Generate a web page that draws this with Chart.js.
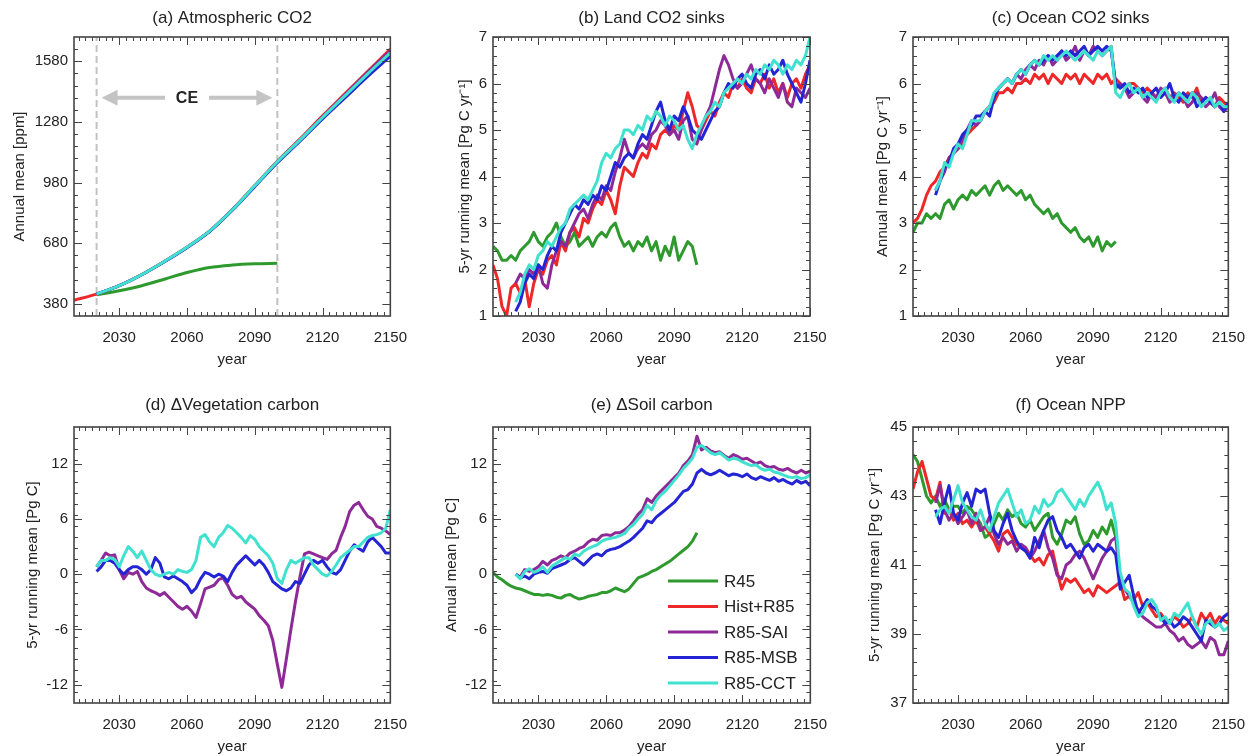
<!DOCTYPE html>
<html lang="en">
<head>
<meta charset="UTF-8">
<title>Carbon cycle panels</title>
<script src="https://cdn.jsdelivr.net/npm/chart.js@4.4.0/dist/chart.umd.min.js"></script>
<style>
  body { margin: 0; width: 1258px; height: 756px; overflow: hidden; background: #fff; position: relative; }
  canvas { position: absolute; }
</style>
</head>
<body>
<canvas id="pa" width="420" height="380" style="left:0;top:0"></canvas>
<canvas id="pb" width="420" height="380" style="left:420px;top:0"></canvas>
<canvas id="pc" width="418" height="380" style="left:840px;top:0"></canvas>
<canvas id="pd" width="420" height="376" style="left:0;top:380px"></canvas>
<canvas id="pe" width="420" height="376" style="left:420px;top:380px"></canvas>
<canvas id="pf" width="418" height="376" style="left:840px;top:380px"></canvas>

<script>
// ---- data ----
const names = ['R45', 'Hist+R85', 'R85-SAI', 'R85-MSB', 'R85-CCT'];
const colors = ['#2e9a2e', '#ee2828', '#8e2a98', '#2424d4', '#40e2cf'];
const xTicks = [2030, 2060, 2090, 2120, 2150];

// (a) atmospheric CO2, every 10 yr
const aR45  = [425, 445, 470, 502, 535, 560, 572, 578, 581];                          // 2020-2100
const aHist = [398, 428, 470, 525, 590, 660, 740, 845, 965, 1085, 1195, 1310, 1420, 1530, 1640]; // 2010-2150
const aSAI  = [428, 470, 525, 590, 660, 740, 845, 964, 1083, 1192, 1305, 1415, 1525, 1632];
const aMSB  = [428, 470, 524, 588, 658, 738, 842, 960, 1078, 1185, 1295, 1400, 1505, 1605];
const aCCT  = [428, 470, 525, 590, 660, 740, 844, 964, 1083, 1190, 1302, 1410, 1518, 1622];

// (b) land CO2 sinks, every 2 yr
const bR45 = [2.5, 2.4, 2.2, 2.2, 2.3,  2.2, 2.4, 2.5, 2.6, 2.8,  2.6, 2.5, 2.7, 2.8, 3.0,
  2.7, 2.5, 2.6, 2.8, 2.5,  2.6, 2.7, 2.5, 2.7, 2.8,  2.7, 2.9, 3.0, 2.7, 2.5,
  2.6, 2.4, 2.6, 2.5, 2.7,  2.4, 2.6, 2.2, 2.5, 2.3,  2.7, 2.2, 2.4, 2.6, 2.5,  2.1];
const bHist = [2.1, 1.8, 1.2, 1.0, 1.6,  1.7, 1.5, 1.8, 1.2, 1.7,  2.0, 1.9, 2.2, 2.3, 2.1,
  2.6, 2.4, 2.8, 2.9, 2.7,  3.1, 3.0, 3.3, 3.5, 3.4,  3.7, 3.5, 3.2, 3.8, 4.2,
  4.1, 4.0, 4.3, 4.5, 4.4,  4.7, 4.6, 4.9, 5.0, 4.9,  5.1, 5.0, 5.4, 5.8, 5.5,
  5.1, 5.0, 5.2, 5.4, 5.3,  5.6, 5.8, 5.7, 6.0, 5.9,  6.1, 5.9, 5.8, 6.1, 6.0,
  6.2, 5.9, 6.1, 5.8, 6.0,  5.7, 6.0, 6.1, 5.9, 6.2,  6.4];
const bSAI = [1.7, 1.9, 1.8, 2.0, 1.9,  2.1, 1.7, 1.6, 2.1, 2.4,  2.6, 2.5, 2.8, 3.0, 3.2,
  3.3, 3.1, 3.4, 3.6, 3.5,  3.8, 3.7, 4.1, 4.4, 4.8,  4.5, 4.4, 4.6, 4.7, 4.6,
  4.9, 5.0, 5.2, 5.1, 4.9,  5.0, 4.8, 5.2, 5.3, 4.8,  4.7, 5.0, 5.3, 5.5, 5.9,
  6.3, 6.6, 6.4, 6.1, 5.9,  6.0, 6.2, 6.4, 6.1, 6.0,  5.8, 6.1, 5.9, 5.7, 6.0,
  5.6, 5.5, 5.9, 5.8, 5.7,  5.9];
const bMSB = [1.1, 1.3, 1.7, 1.9, 1.8,  2.1, 2.0, 2.3, 2.5, 2.4,  2.8, 3.0, 3.2, 3.4, 3.3,
  3.5, 3.4, 3.6, 3.5, 3.8,  3.7, 4.0, 4.3, 4.2, 4.4,  4.5, 4.4, 4.7, 4.9, 4.8,
  5.1, 5.4, 5.6, 5.2, 5.0,  5.3, 5.2, 5.5, 5.3, 5.0,  4.9, 4.8, 5.0, 5.2, 5.4,
  5.5, 5.8, 6.0, 5.9, 6.1,  6.2, 6.0, 5.9, 6.2, 6.3,  6.1, 6.4, 6.2, 6.3, 6.5,
  6.2, 6.0, 5.8, 5.6, 6.0,  6.5];
const bCCT = [1.3, 1.5, 1.9, 2.1, 2.0,  2.3, 2.4, 2.6, 2.5, 2.7,  2.9, 3.0, 3.3, 3.4, 3.5,
  3.6, 3.5, 3.7, 3.9, 4.3,  4.5, 4.4, 4.6, 4.7, 5.0,  5.0, 4.9, 5.1, 5.0, 5.3,
  5.2, 5.4, 5.3, 5.1, 5.3,  5.2, 5.0, 5.1, 4.8, 4.6,  4.9, 5.1, 5.3, 5.4, 5.6,
  5.5, 5.8, 5.9, 6.0, 6.1,  6.0, 6.2, 6.1, 6.3, 6.2,  6.4, 6.3, 6.5, 6.4, 6.2,
  6.4, 6.3, 6.5, 6.4, 6.6,  7.0];

// (c) ocean CO2 sinks, every 2 yr
const cR45 = [2.8, 3.0, 3.0, 3.2, 3.1,  3.2, 3.1, 3.4, 3.5, 3.3,  3.5, 3.6, 3.5, 3.7, 3.6,
  3.7, 3.8, 3.6, 3.8, 3.9,  3.7, 3.8, 3.7, 3.6, 3.7,  3.5, 3.6, 3.4, 3.3, 3.2,
  3.3, 3.1, 3.2, 3.0, 2.9,  2.8, 2.9, 2.7, 2.6, 2.7,  2.5, 2.7, 2.4, 2.6, 2.5,  2.6];
const cHist = [3.0, 3.1, 3.3, 3.6, 3.8,  3.9, 4.1, 4.2, 4.4, 4.5,  4.6, 4.7, 4.9, 5.0, 5.1,
  5.2, 5.4, 5.5, 5.6, 5.8,  5.8, 5.9, 5.8, 6.0, 6.0,  6.1, 6.0, 6.2, 6.1, 6.2,
  6.0, 6.2, 6.1, 6.0, 6.2,  6.1, 6.2, 6.0, 6.2, 6.1,  6.0, 6.2, 6.1, 6.2, 6.0,
  6.1, 6.0, 5.9, 6.0, 6.0,  5.9, 5.8, 5.9, 5.8, 5.7,  5.8, 5.9, 5.7, 5.8, 5.7,
  5.6, 5.8, 5.7, 5.9, 5.6,  5.7, 5.6, 5.5, 5.7, 5.6,  5.5];
const cSAI = [3.7, 3.9, 4.1, 4.4, 4.5,  4.6, 4.8, 5.0, 5.2, 5.1,  5.2, 5.4, 5.5, 5.7, 5.9,
  6.0, 6.1, 6.0, 6.2, 6.1,  6.3, 6.4, 6.3, 6.5, 6.4,  6.6, 6.4, 6.5, 6.7, 6.5,
  6.6, 6.8, 6.5, 6.7, 6.6,  6.8, 6.7, 6.6, 6.7, 6.8,  5.9, 6.0, 5.9, 5.7, 5.8,
  5.9, 5.7, 5.6, 5.8, 5.7,  5.9, 5.8, 5.6, 5.7, 5.8,  5.7, 5.5, 5.6, 5.8, 5.7,
  5.5, 5.6, 5.8, 5.5, 5.4,  5.5];
const cMSB = [3.6, 3.9, 4.2, 4.3, 4.6,  4.7, 4.9, 5.0, 5.1, 5.3,  5.3, 5.4, 5.3, 5.7, 5.9,
  6.0, 6.1, 6.0, 6.2, 6.3,  6.2, 6.4, 6.5, 6.4, 6.5,  6.6, 6.5, 6.6, 6.7, 6.6,
  6.7, 6.6, 6.7, 6.8, 6.6,  6.7, 6.8, 6.7, 6.8, 6.7,  6.0, 5.9, 6.0, 5.8, 5.9,
  5.8, 5.9, 5.7, 5.8, 5.9,  5.7, 5.8, 6.0, 5.7, 5.6,  5.8, 5.7, 5.8, 5.5, 5.6,
  5.7, 5.6, 5.5, 5.6, 5.4,  5.6];
const cCCT = [3.7, 3.9, 4.3, 4.2, 4.5,  4.7, 4.6, 4.9, 5.2, 5.2,  5.2, 5.4, 5.5, 5.8, 5.9,
  6.0, 6.1, 6.0, 6.2, 6.3,  6.2, 6.4, 6.5, 6.4, 6.6,  6.5, 6.6, 6.5, 6.6, 6.7,
  6.6, 6.5, 6.6, 6.7, 6.6,  6.5, 6.7, 6.6, 6.7, 6.8,  5.8, 5.7, 5.9, 6.0, 5.8,
  5.9, 5.7, 5.8, 5.7, 5.6,  5.8, 5.9, 5.7, 5.6, 5.8,  5.7, 5.6, 5.8, 5.7, 5.5,
  5.6, 5.7, 5.5, 5.6, 5.5,  5.5];

// (d) delta vegetation carbon, every 2 yr from 2020
const dSAI = [0.8, 1.5, 2.3, 2.0, 2.1,  0.5, -0.5, 0.2, 0.0, 0.3,  -0.8, -1.5, -1.8, -2.0, -2.3,
  -2.0, -2.5, -3.0, -3.5, -3.8,  -3.5, -4.0, -4.7, -3.2, -1.6,  -1.4, -1.2, -0.6, -0.4, -1.2,
  -2.2, -2.6, -2.4, -3.0, -3.4,  -3.8, -4.5, -5.0, -5.6, -7.2,  -9.8, -12.3, -9.2, -6.0, -3.0,
  -0.3, 2.2, 2.4, 2.2, 2.0,  1.8, 1.6, 2.2, 2.6, 4.0,  5.2, 6.8, 7.5, 7.8, 7.0,
  6.3, 6.0, 5.2, 5.0, 4.7,  4.3];
const dMSB = [0.3, 0.8, 1.5, 1.5, 1.2,  0.5, 0.0, 0.5, 0.8, 0.8,  0.5, 0.0, 0.5, 1.8, 1.2,
  -0.3, -0.5, -0.2, -0.5, -0.8,  -1.2, -2.0, -1.5, -0.5, 0.2,  0.0, -0.3, 0.0, -0.2, -0.8,
  0.2, 1.0, 1.5, 2.0, 1.5,  1.0, 1.5, 1.0, 0.2, -0.8,  -1.2, -1.6, -1.8, -1.5, -0.8,
  -1.0, 0.0, 1.0, 1.5, 1.2,  1.5, 0.8, 0.2, 0.0, 0.5,  1.5, 2.5, 3.2, 2.8, 2.5,
  3.5, 4.0, 3.5, 3.0, 2.3,  2.3];
const dCCT = [0.8, 1.5, 1.5, 1.8, 1.6,  0.8, 2.0, 3.0, 2.5, 1.8,  2.5, 1.5, 0.5, 0.0, -0.2,
  0.0, 0.2, 0.0, 0.5, 0.3,  0.2, 0.5, 1.5, 4.0, 4.3,  3.5, 3.0, 4.0, 4.5, 5.3,
  5.0, 4.5, 4.0, 3.4, 4.2,  3.8, 3.0, 2.5, 2.0, 1.2,  -0.5, -1.0, 0.5, 1.5, 1.2,
  1.5, 1.8, 1.8, 1.0, 0.5,  0.0, -0.2, 0.3, 1.0, 1.8,  2.2, 2.6, 3.0, 3.0, 3.5,
  4.0, 4.2, 4.3, 4.5, 5.0,  7.0];

// (e) delta soil carbon, every 2 yr
const eR45 = [0.2, -0.3, -0.6, -1.0, -1.3,  -1.5, -1.6, -1.8, -2.0, -2.2,  -2.2, -2.3, -2.2, -2.3, -2.5,
  -2.6, -2.3, -2.2, -2.5, -2.7,  -2.6, -2.4, -2.3, -2.2, -2.0,  -2.0, -1.8, -1.5, -1.7, -1.9,
  -1.6, -1.0, -0.4, -0.2, 0.0,  0.3, 0.5, 0.8, 1.1, 1.4,  1.8, 2.2, 2.6, 3.0, 3.6,  4.5];
const eSAI = [0.0, -0.3, 0.5, 0.3, 0.5,  0.8, 1.4, 1.0, 1.5, 1.7,  2.0, 1.8, 2.3, 2.5, 2.8,
  3.0, 3.5, 3.8, 3.7, 4.2,  4.3, 4.2, 4.5, 4.5, 4.8,  5.2, 5.8, 6.5, 7.0, 8.2,
  7.8, 8.5, 9.0, 9.5, 10.0,  10.5, 11.0, 11.8, 12.3, 13.0,  15.0, 13.5, 13.8, 13.4, 13.2,
  13.3, 12.9, 12.6, 13.0, 12.8,  12.5, 12.6, 12.3, 12.0, 12.2,  11.8, 11.6, 11.7, 11.4, 11.3,
  11.5, 11.2, 11.0, 11.3, 11.0,  11.2];
const eMSB = [0.0, -0.4, -0.2, -0.5, 0.0,  0.2, 0.3, 0.1, 0.6, 0.8,  1.0, 1.2, 1.6, 1.8, 1.4,
  1.0, 1.5, 2.0, 2.2, 2.0,  2.5, 2.7, 2.8, 3.0, 3.3,  3.6, 4.0, 4.5, 5.0, 5.8,
  5.6, 6.2, 6.6, 7.0, 7.4,  7.8, 8.4, 9.0, 9.2, 9.8,  11.0, 11.4, 11.0, 10.8, 11.0,
  11.3, 11.0, 10.7, 10.9, 10.8,  10.6, 10.9, 10.5, 10.3, 10.6,  10.4, 10.2, 10.5, 10.1, 10.3,
  10.0, 9.8, 10.2, 9.9, 10.1,  9.6];
const eCCT = [0.0, -0.5, 0.3, 0.6, 0.2,  0.4, 0.8, 0.2, 0.9, 1.2,  1.5, 1.8, 1.6, 2.2, 2.0,
  2.5, 2.8, 3.0, 3.2, 3.6,  3.8, 3.9, 4.0, 4.2, 4.4,  5.0, 5.4, 6.0, 6.5, 7.5,
  7.0, 8.0, 8.6, 9.0, 9.6,  10.2, 10.8, 11.5, 12.0, 12.6,  13.8, 14.0, 13.6, 13.2, 13.0,
  13.2, 12.8, 12.4, 12.6, 12.5,  12.2, 12.0, 11.8, 11.9, 11.5,  11.3, 11.4, 11.1, 11.0, 10.8,
  10.6, 10.5, 10.6, 10.4, 10.5,  10.8];

// (f) ocean NPP, every 2 yr
const fR45 = [44.2, 44.0, 43.5, 43.0, 42.8,  43.0, 42.7, 42.9, 42.6, 42.7,  42.7, 42.5, 42.7, 42.6, 42.4,
  42.2, 41.8, 41.9, 42.2, 42.5,  42.3, 42.6, 42.4, 42.5, 42.2,  42.1, 42.3, 42.0, 42.2, 42.4,
  42.5, 41.8, 41.6, 41.9, 42.3,  42.2, 42.4, 41.9, 41.6, 41.7,  42.0, 41.8, 42.1, 41.9, 42.3,  41.8];
const fHist = [43.2, 43.7, 44.0, 43.5, 43.0,  42.9, 43.4, 42.5, 42.6, 42.3,  42.5, 42.2, 42.3, 42.1, 42.3,
  42.0, 42.1, 41.9, 41.7, 41.4,  41.9, 42.0, 41.8, 41.6, 41.5,  41.5, 41.3, 41.1, 41.2, 41.0,
  41.3, 41.4, 40.8, 40.3, 40.6,  40.5, 40.6, 40.4, 40.2, 40.3,  40.1, 40.4, 40.3, 40.2, 40.3,
  40.4, 40.5, 40.0, 40.1, 40.0,  40.2, 39.8, 39.9, 39.7, 39.5,  39.6, 39.4, 39.3, 39.5, 39.4,
  39.2, 39.3, 39.5, 39.2, 39.6,  39.4, 39.6, 39.3, 39.5, 39.4,  39.3];
const fSAI = [42.8, 43.3, 42.6, 42.3, 42.5,  42.2, 42.4, 42.6, 42.2, 42.5,  42.0, 42.1, 42.4, 41.9, 41.6,
  41.8, 41.6, 41.7, 41.4, 41.6,  41.5, 41.2, 41.4, 41.7, 42.0,  41.5, 41.2, 40.7, 40.6, 41.0,
  41.1, 41.3, 41.4, 41.2, 40.9,  40.6, 40.9, 41.2, 41.4, 41.7,  41.8, 40.5, 40.3, 40.1, 39.9,
  39.7, 39.5, 39.4, 39.3, 39.2,  39.2, 39.3, 39.1, 39.0, 38.8,  38.9, 38.7, 38.6, 38.7, 38.8,
  38.6, 38.9, 38.8, 38.4, 38.4,  38.8];
const fMSB = [42.6, 42.2, 42.8, 43.3, 42.5,  42.3, 42.8, 43.1, 42.7, 43.2,  43.1, 43.2, 42.5, 42.0, 41.8,
  42.2, 42.5, 42.0, 41.7, 41.5,  41.4, 41.2, 41.8, 41.5, 42.0,  42.3, 42.4, 42.0, 41.8, 41.5,
  41.6, 41.4, 41.2, 41.5, 41.6,  41.4, 41.6, 41.5, 41.4, 41.5,  41.3, 40.3, 40.5, 40.7, 40.1,
  39.6, 39.8, 40.0, 39.8, 39.7,  39.5, 39.3, 39.4, 39.2, 39.3,  39.5, 39.4, 39.2, 39.0, 38.8,
  39.4, 39.3, 39.2, 39.3, 39.5,  39.6];
const fCCT = [42.4, 42.6, 42.7, 42.5, 42.9,  43.3, 42.8, 42.6, 42.4, 42.3,  42.6, 42.2, 42.0, 42.4, 42.8,
  43.0, 43.2, 42.8, 42.4, 42.6,  42.2, 42.3, 42.7, 42.5, 42.9,  42.7, 42.8, 43.1, 43.2, 43.0,
  42.8, 42.6, 42.9, 42.7, 43.0,  43.2, 43.4, 43.1, 42.6, 42.8,  42.2, 40.8, 40.3, 40.2, 39.8,
  39.5, 39.6, 39.9, 40.0, 39.8,  39.4, 39.5, 39.3, 39.6, 39.5,  39.7, 39.9, 39.5, 39.2, 39.0,
  39.3, 39.4, 39.2, 39.3, 39.1,  39.2];

// ---- helpers ----
Chart.defaults.font.family = '"Liberation Sans", Arial, sans-serif';
Chart.defaults.color = '#222';

const pts = (start, vals, step = 2) => vals.map((v, i) => ({ x: start + i * step, y: v }));

// box with inward major/minor ticks on all four sides, plus panel title
const frame = {
  id: 'frame',
  afterDatasetsDraw(chart, args, opts) {
    const { ctx, chartArea: a, scales: { x, y } } = chart;
    ctx.save();
    ctx.strokeStyle = '#444';
    ctx.lineWidth = 1;
    const seg = (x1, y1, x2, y2) => { ctx.beginPath(); ctx.moveTo(x1, y1); ctx.lineTo(x2, y2); ctx.stroke(); };
    const tx = (v, len) => {
      const p = Math.round(x.getPixelForValue(v)) + 0.5;
      seg(p, a.bottom, p, a.bottom - len); seg(p, a.top, p, a.top + len);
    };
    const ty = (v, len) => {
      const p = Math.round(y.getPixelForValue(v)) + 0.5;
      seg(a.left, p, a.left + len, p); seg(a.right, p, a.right - len, p);
    };
    for (let v = 2012; v < 2150; v += 3) tx(v, 4);
    xTicks.forEach(v => tx(v, 8));
    const n = Math.round((y.max - y.min) / opts.minorY);
    for (let i = 1; i < n; i++) ty(y.min + i * opts.minorY, 4);
    opts.yticks.forEach(v => ty(v, 8));
    ctx.lineWidth = 1.6;
    ctx.strokeRect(a.left, a.top, a.right - a.left, a.bottom - a.top);
    ctx.fillStyle = '#222';
    ctx.font = '17px "Liberation Sans", Arial, sans-serif';
    ctx.textAlign = 'center';
    ctx.textBaseline = 'middle';
    ctx.fillText(opts.title, (a.left + a.right) / 2, opts.titleY);
    ctx.restore();
  }
};

// dashed CE window and arrows in panel (a)
const ceMarks = {
  id: 'ceMarks',
  beforeDatasetsDraw(chart) {
    const { ctx, chartArea: a, scales: { x, y } } = chart;
    const x1 = x.getPixelForValue(2020), x2 = x.getPixelForValue(2100);
    ctx.save();
    ctx.strokeStyle = '#c2c2c2';
    ctx.lineWidth = 2;
    ctx.setLineDash([7, 4]);
    [x1, x2].forEach(px => { ctx.beginPath(); ctx.moveTo(px, a.bottom); ctx.lineTo(px, a.top); ctx.stroke(); });
    ctx.setLineDash([]);
    const ay = y.getPixelForValue(1400);
    const mid = (x1 + x2) / 2;
    ctx.fillStyle = '#c4c4c4';
    const arrow = (tip, tail, dir) => {
      ctx.beginPath();
      ctx.moveTo(tip, ay);
      ctx.lineTo(tip + dir * 16, ay - 8);
      ctx.lineTo(tip + dir * 16, ay - 2);
      ctx.lineTo(tail, ay - 2);
      ctx.lineTo(tail, ay + 2);
      ctx.lineTo(tip + dir * 16, ay + 2);
      ctx.lineTo(tip + dir * 16, ay + 8);
      ctx.closePath();
      ctx.fill();
    };
    arrow(x1 + 5, mid - 22, 1);
    arrow(x2 - 5, mid + 22, -1);
    ctx.fillStyle = '#222';
    ctx.font = 'bold 16px "Liberation Sans", Arial, sans-serif';
    ctx.textAlign = 'center';
    ctx.textBaseline = 'middle';
    ctx.fillText('CE', mid, ay + 1);
    ctx.restore();
  }
};

// scenario legend inside panel (e)
const scenLegend = {
  id: 'scenLegend',
  afterDatasetsDraw(chart) {
    const { ctx, chartArea: a } = chart;
    ctx.save();
    ctx.lineWidth = 3;
    ctx.font = '17px "Liberation Sans", Arial, sans-serif';
    ctx.textBaseline = 'middle';
    ctx.textAlign = 'left';
    names.forEach((nm, i) => {
      const yy = a.top + 154 + i * 25.5;
      ctx.strokeStyle = colors[i];
      ctx.beginPath(); ctx.moveTo(a.left + 175, yy); ctx.lineTo(a.left + 225, yy); ctx.stroke();
      ctx.fillStyle = '#222';
      ctx.fillText(nm, a.left + 231, yy + 1);
    });
    ctx.restore();
  }
};

function panel(id, o) {
  // later series in the list are drawn on top (lower order = drawn last)
  const sets = o.series.map((s, i) => ({
    label: names[s.k], data: s.data, borderColor: colors[s.k], borderWidth: 3,
    pointRadius: 0, fill: false, borderJoinStyle: 'round', order: 10 - i,
    cubicInterpolationMode: o.smooth ? 'monotone' : 'default', tension: 0
  }));
  new Chart(document.getElementById(id), {
    type: 'line',
    data: { datasets: sets },
    options: {
      responsive: false, animation: false, devicePixelRatio: 1,
      layout: { padding: { top: o.top, right: o.right, bottom: 0, left: 0 } },
      plugins: {
        legend: { display: false }, tooltip: { enabled: false },
        frame: { title: o.title, titleY: o.titleY, yticks: o.yticks, minorY: o.minorY }
      },
      scales: {
        x: {
          type: 'linear', min: 2010, max: 2150,
          grid: { display: false, drawTicks: false }, border: { display: false },
          afterBuildTicks: s => { s.ticks = xTicks.map(v => ({ value: v })); },
          afterFit: s => { s.height = o.xh; },
          ticks: { padding: 13, autoSkip: false, maxRotation: 0, font: { size: 15 }, callback: v => String(v) },
          title: { display: true, text: 'year', font: { size: 15 }, padding: { top: 0, bottom: o.yearPad } }
        },
        y: {
          type: 'linear', min: o.ymin, max: o.ymax,
          grid: { display: false, drawTicks: false }, border: { display: false },
          afterBuildTicks: s => { s.ticks = o.yticks.map(v => ({ value: v })); },
          afterFit: s => { s.width = o.yw; },
          ticks: { padding: 6, font: { size: 15 }, callback: v => String(v) },
          title: { display: true, text: o.ylabel, font: { size: 15 }, padding: { top: o.ytPad, bottom: 0 } }
        }
      }
    },
    plugins: [frame].concat(o.extra || [])
  });
}

const top1 = { top: 37, xh: 64, yearPad: 11, titleY: 18 };
const top2 = { top: 47, xh: 53, yearPad: 0, titleY: 25 };

panel('pa', Object.assign({}, top1, {
  title: '(a) Atmospheric CO2', ylabel: 'Annual mean [ppm]', right: 27, yw: 74, ytPad: 11,
  ymin: 320, ymax: 1700, yticks: [380, 680, 980, 1280, 1580], minorY: 60, smooth: true, extra: [ceMarks],
  series: [
    { k: 0, data: pts(2020, aR45, 10) }, { k: 1, data: pts(2010, aHist, 10) },
    { k: 2, data: pts(2020, aSAI, 10) }, { k: 3, data: pts(2020, aMSB, 10) },
    { k: 4, data: pts(2020, aCCT, 10) }
  ]
}));

panel('pb', Object.assign({}, top1, {
  title: '(b) Land CO2 sinks', ylabel: '5-yr running mean [Pg C yr\u207B\u00B9]', right: 30, yw: 73, ytPad: 36,
  ymin: 1, ymax: 7, yticks: [1, 2, 3, 4, 5, 6, 7], minorY: 0.2,
  series: [
    { k: 0, data: pts(2010, bR45) }, { k: 1, data: pts(2010, bHist) },
    { k: 2, data: pts(2020, bSAI) }, { k: 3, data: pts(2020, bMSB) },
    { k: 4, data: pts(2020, bCCT) }
  ]
}));

panel('pc', Object.assign({}, top1, {
  title: '(c) Ocean CO2 sinks', ylabel: 'Annual mean [Pg C yr\u207B\u00B9]', right: 29, yw: 73, ytPad: 34,
  ymin: 1, ymax: 7, yticks: [1, 2, 3, 4, 5, 6, 7], minorY: 0.2,
  series: [
    { k: 0, data: pts(2010, cR45) }, { k: 1, data: pts(2010, cHist) },
    { k: 2, data: pts(2020, cSAI) }, { k: 3, data: pts(2020, cMSB) },
    { k: 4, data: pts(2020, cCCT) }
  ]
}));

panel('pd', Object.assign({}, top2, {
  title: '(d) \u0394Vegetation carbon', ylabel: '5-yr running mean [Pg C]', right: 28, yw: 74, ytPad: 24,
  ymin: -14, ymax: 16, yticks: [-12, -6, 0, 6, 12], minorY: 1.2,
  series: [
    { k: 2, data: pts(2020, dSAI) }, { k: 3, data: pts(2020, dMSB) },
    { k: 4, data: pts(2020, dCCT) }
  ]
}));

panel('pe', Object.assign({}, top2, {
  title: '(e) \u0394Soil carbon', ylabel: 'Annual mean [Pg C]', right: 29, yw: 73, ytPad: 23,
  ymin: -14, ymax: 16, yticks: [-12, -6, 0, 6, 12], minorY: 1.2, extra: [scenLegend],
  series: [
    { k: 0, data: pts(2010, eR45) }, { k: 2, data: pts(2020, eSAI) },
    { k: 3, data: pts(2020, eMSB) }, { k: 4, data: pts(2020, eCCT) }
  ]
}));

panel('pf', Object.assign({}, top2, {
  title: '(f) Ocean NPP', ylabel: '5-yr running mean [Pg C yr\u207B\u00B9]', right: 29, yw: 73, ytPad: 26,
  ymin: 37, ymax: 45, yticks: [37, 39, 41, 43, 45], minorY: 0.4,
  series: [
    { k: 0, data: pts(2010, fR45) }, { k: 1, data: pts(2010, fHist) },
    { k: 2, data: pts(2020, fSAI) }, { k: 3, data: pts(2020, fMSB) },
    { k: 4, data: pts(2020, fCCT) }
  ]
}));
</script>
</body>
</html>
